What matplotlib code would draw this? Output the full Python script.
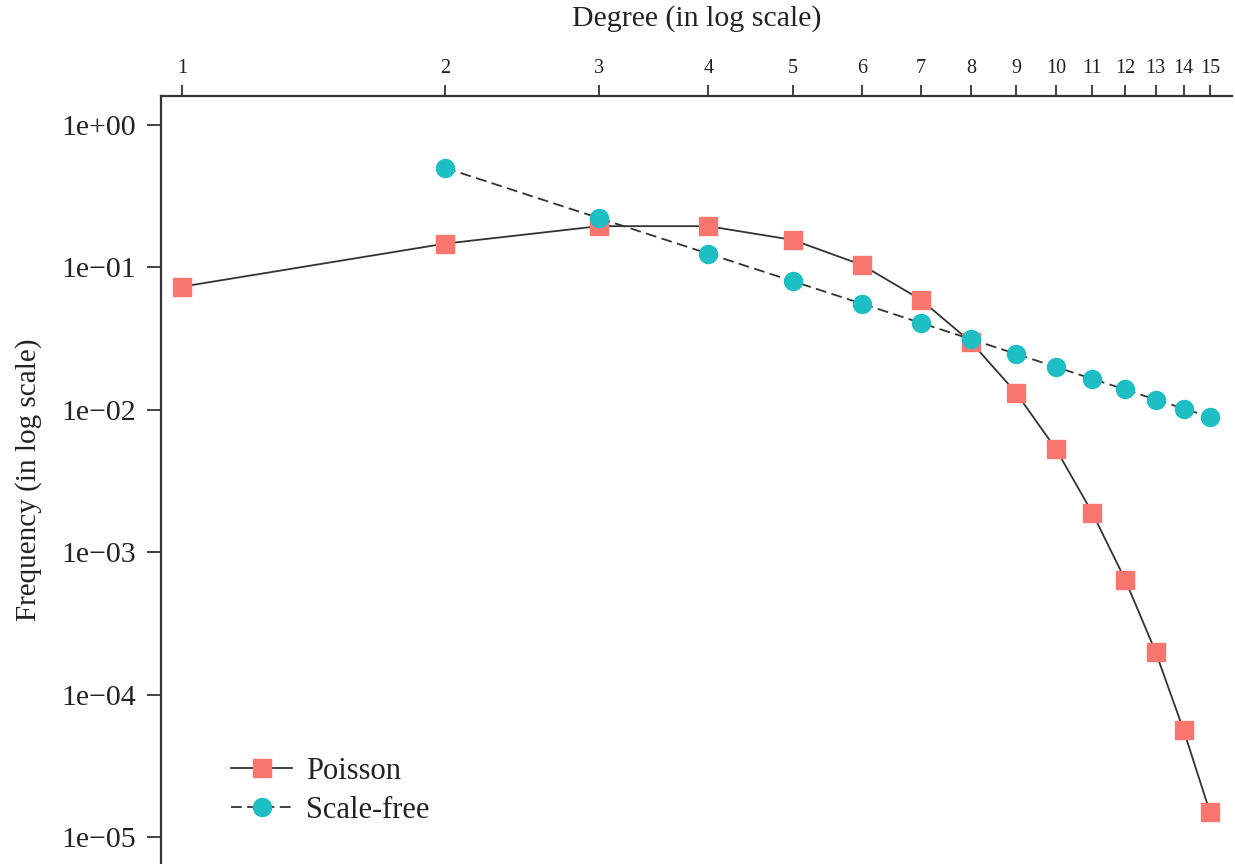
import matplotlib
matplotlib.use("Agg")
import matplotlib.pyplot as plt
from matplotlib.ticker import FixedLocator, NullLocator, FixedFormatter

plt.rcParams['font.family'] = ['Liberation Serif', 'DejaVu Serif']

# degree distribution values
poisson_deg = [1, 2, 3, 4, 5, 6, 7, 8, 9, 10, 11, 12, 13, 14, 15]
poisson_freq = [0.0733, 0.147, 0.195, 0.195, 0.156, 0.104, 0.0595, 0.0298,
                0.0132, 0.0053, 0.0019, 0.00064, 0.0002, 5.6e-5, 1.5e-5]

scalefree_deg = [2, 3, 4, 5, 6, 7, 8, 9, 10, 11, 12, 13, 14, 15]
scalefree_freq = [0.5, 0.222, 0.125, 0.08, 0.0556, 0.0408, 0.0313, 0.0247,
                  0.02, 0.0165, 0.0139, 0.0118, 0.0102, 0.0089]

x_ticks = list(range(1, 16))
y_ticks = [1e0, 1e-1, 1e-2, 1e-3, 1e-4, 1e-5]
y_labels = ["1e+00", "1e\u221201", "1e\u221202", "1e\u221203", "1e\u221204", "1e\u221205"]

RED = "#F8766D"
TEAL = "#1DBFC4"
INK = "#333333"

fig = plt.figure(figsize=(12.35, 8.64), dpi=100)
ax = fig.add_axes([161 / 1235, 0.0, (1232 - 161) / 1235, 1 - 96 / 864])

ax.plot(poisson_deg, poisson_freq, color=INK, lw=1.3, ls='-', marker='s',
        markersize=13.5, markerfacecolor=RED, markeredgecolor=RED, label="Poisson")
ax.plot(scalefree_deg, scalefree_freq, color=INK, lw=1.3, ls=(0, (6, 3)), marker='o',
        markersize=13, markerfacecolor=TEAL, markeredgecolor=TEAL, label="Scale-free")

ax.set_xscale('log')
ax.set_yscale('log')
ax.set_xlim(0.946, 15.9)
ax.set_ylim(6.46e-6, 1.6)

# x axis on top
ax.xaxis.set_ticks_position('top')
ax.xaxis.set_label_position('top')
ax.xaxis.set_major_locator(FixedLocator(x_ticks))
ax.xaxis.set_major_formatter(FixedFormatter([str(v) for v in x_ticks]))
ax.xaxis.set_minor_locator(NullLocator())
ax.yaxis.set_major_locator(FixedLocator(y_ticks))
ax.yaxis.set_major_formatter(FixedFormatter(y_labels))
ax.yaxis.set_minor_locator(NullLocator())

ax.tick_params(axis='x', direction='out', length=8, width=1.3, color=INK,
               labelsize=14.5, pad=5, labelcolor="#222222")
ax.tick_params(axis='y', direction='out', length=10, width=1.3, color=INK,
               labelsize=21.5, pad=8, labelcolor="#222222")

for side in ['right', 'bottom']:
    ax.spines[side].set_visible(False)
for side in ['left', 'top']:
    ax.spines[side].set_color(INK)
    ax.spines[side].set_linewidth(1.6)

ax.set_xlabel("Degree (in log scale)", fontsize=21.5, labelpad=24, color="#222222")
ax.set_ylabel("Frequency (in log scale)", fontsize=21, labelpad=14, color="#222222")

leg = ax.legend(loc='lower left', bbox_to_anchor=(0.04, 0.0148), frameon=False,
                fontsize=22, handlelength=2.0, handletextpad=0.45, labelspacing=0.33)
for t in leg.get_texts():
    t.set_color("#222222")

fig.savefig("out.png", dpi=100)
